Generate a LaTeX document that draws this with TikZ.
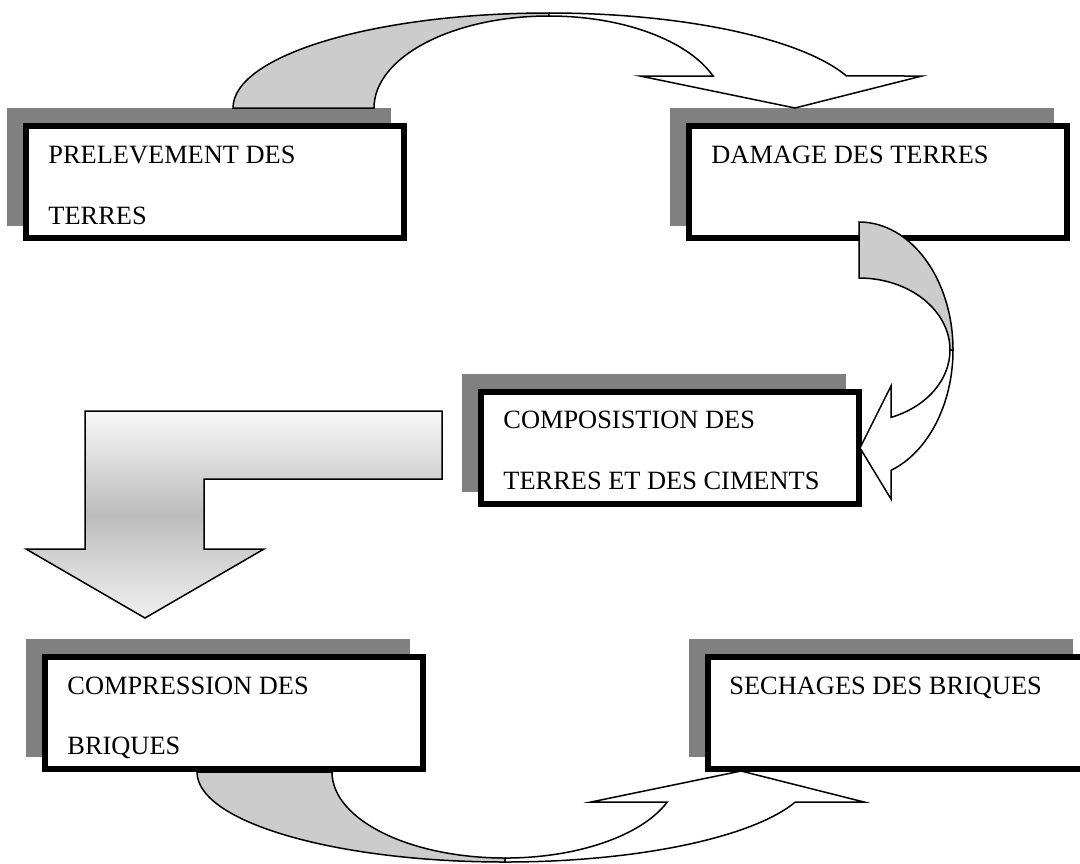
\documentclass[tikz,border=0pt]{standalone}
\usepackage{fontspec}
\setmainfont{Liberation Serif}
\usetikzlibrary{shadows}
\definecolor{ombre}{RGB}{128,128,128}
\definecolor{dos}{RGB}{204,204,204}
\tikzset{
  etape/.style={draw, line width=3pt, fill=white, minimum width=189pt, minimum height=56pt, anchor=north west,
    general shadow={shadow xshift=-8pt, shadow yshift=7.75pt, fill=ombre, draw=ombre}},
  texte/.style={anchor=base west, inner sep=0pt, font=\fontsize{13.2}{16}\selectfont},
  fleche/.style={draw, line width=0.75pt, fill=white},
}
\begin{document}
\begin{tikzpicture}[x=0.5pt, y=-0.5pt]
    \useasboundingbox (0,0) rectangle (1080,863);
    \node[etape] (prel) at (23,123) {};
    \node[etape] (dam) at (686,123) {};
    \node[etape] (comp) at (478,389) {};
    \node[etape] (compr) at (42,654) {};
    \node[etape] (sech) at (705,654) {};
    \node[texte] (prel1) at ([shift={(25,40)}]prel.north west) {PRELEVEMENT DES};
    \node[texte] (prel2) at ([shift={(25,101)}]prel.north west) {TERRES};
    \node[texte] (dam1) at ([shift={(25,40)}]dam.north west) {DAMAGE DES TERRES};
    \node[texte] (comp1) at ([shift={(25,39)}]comp.north west) {COMPOSISTION DES};
    \node[texte] (comp2) at ([shift={(25,100)}]comp.north west) {TERRES ET DES CIMENTS};
    \node[texte] (compr1) at ([shift={(25,40)}]compr.north west) {COMPRESSION DES};
    \node[texte] (compr2) at ([shift={(25,100)}]compr.north west) {BRIQUES};
    \node[texte] (sech1) at ([shift={(24,40)}]sech.north west) {SECHAGES DES BRIQUES};
    \filldraw[fleche, fill=dos] (233,108) arc[start angle=180, end angle=270, x radius=316, y radius=95]
        -- (549,16) arc[start angle=270, end angle=180, x radius=175, y radius=92] -- cycle;
    \filldraw[fleche] (549,13) arc[start angle=270, end angle=340.3, x radius=316, y radius=95]
        -- (922,76) -- (795,108) -- (640,76) -- (713,76)
        arc[start angle=339.65, end angle=270, x radius=175, y radius=92] -- cycle;
    \filldraw[fleche, fill=dos] (859,222) arc[start angle=270, end angle=360, x radius=94, y radius=128]
        -- (950,350) arc[start angle=0, end angle=-90, x radius=91, y radius=72] -- cycle;
    \filldraw[fleche] (953,350) arc[start angle=0, end angle=70.1, x radius=94, y radius=128]
        -- (891,499) -- (860,448) -- (891,386) -- (891,417.4)
        arc[start angle=69.4, end angle=0, x radius=91, y radius=72] -- cycle;
    \filldraw[line width=0.75pt, top color=black!3, bottom color=black!6, middle color=black!26]
        (85,411) -- (442,411) -- (442,479) -- (204,479) -- (204,549) -- (264,549)
        -- (145,618) -- (26,549) -- (85,549) -- cycle;
    \filldraw[fleche, fill=dos] (197,772) arc[start angle=180, end angle=90, x radius=308, y radius=90]
        -- (505,858) arc[start angle=90, end angle=180, x radius=173, y radius=86] -- cycle;
    \filldraw[fleche] (505,862) arc[start angle=90, end angle=19.47, x radius=308, y radius=90]
        -- (864,802) -- (741,771) -- (591,802) -- (667.2,802)
        arc[start angle=20.4, end angle=90, x radius=173, y radius=86] -- cycle;
\end{tikzpicture}
\end{document}
